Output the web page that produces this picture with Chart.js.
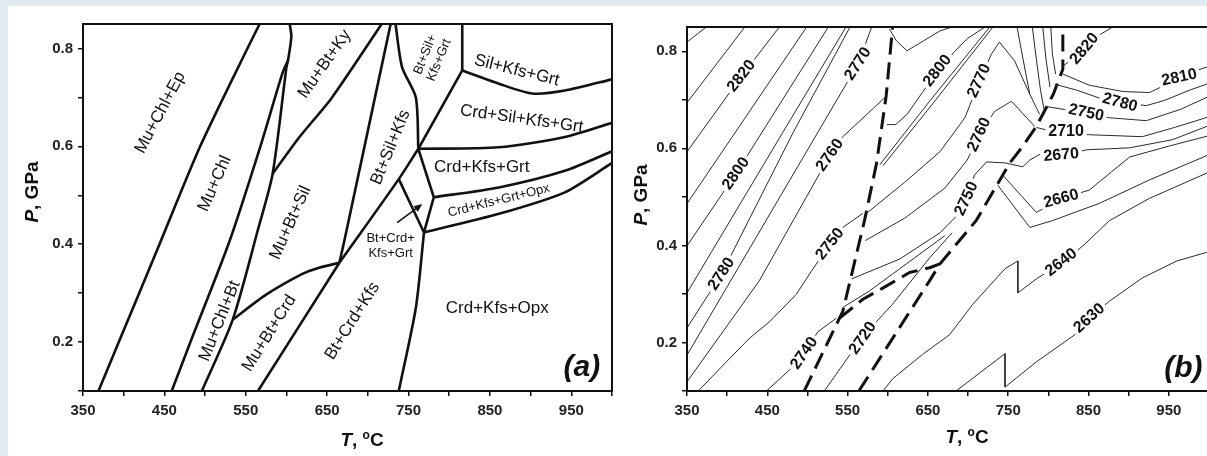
<!DOCTYPE html>
<html>
<head>
<meta charset="utf-8">
<script src="https://cdn.jsdelivr.net/npm/chart.js@4.4.1/dist/chart.umd.min.js"></script>
<style>
html, body { margin:0; padding:0; overflow:hidden; width:1207px; height:456px; background:#e1e9f3; }
#sheet { position:absolute; left:8px; top:6px; right:0; bottom:0; background:#fff; }
canvas { position:absolute; top:0; }
#chartA { left:0; }
#chartB { left:600px; }
</style>
</head>
<body>
<div id="sheet"></div>
<canvas id="chartA" width="620" height="456"></canvas>
<canvas id="chartB" width="620" height="456"></canvas>
<script>
const FONT = "'Liberation Sans', Arial, Helvetica, sans-serif"

// axes
const xTickValues = [350,400,450,500,550,600,650,700,750,800,850,900,950,1000]
const xTickLabels = [350,450,550,650,750,850,950]
const yTickValues = [0.1,0.2,0.3,0.4,0.5,0.6,0.7,0.8]
const yTickLabels = [0.2,0.4,0.6,0.8]

// ---- panel (a) phase boundaries, points are [T in C, P in GPa]
const epOut      = [[369,0.1],[394,0.2],[444,0.4],[494,0.6],[552,0.8],[567,0.85]]
const chlBtIn    = [[459,0.1],[482,0.2],[530,0.406],[568,0.6],[595,0.749],[602,0.776]]
const chlOut     = [[496,0.1],[534,0.246],[565,0.43],[583,0.544],[600,0.762],[602,0.776]]
const muChlTop   = [[602,0.776],[606,0.824],[604,0.85]]
const kySil      = [[583,0.544],[616,0.619],[656,0.70],[717,0.85]]
const crdIn      = [[534,0.246],[575,0.297],[619,0.339],[640,0.352],[665,0.362]]
const muOutLow   = [[565,0.1],[665,0.362]]
const muOutHigh  = [[665,0.362],[671,0.406],[728,0.85]]
const grtInSil   = [[734,0.85],[742,0.762],[759,0.70],[762,0.595]]
const btOutLow   = [[665,0.362],[738,0.533],[762,0.595]]
const grtInCrd   = [[738,0.533],[769,0.424]]
const btOutGrt   = [[762,0.595],[781,0.496]]
const opxInGrt   = [[781,0.496],[769,0.424]]
const btOutHigh  = [[762,0.595],[816,0.755]]
const silKfsWall = [[816,0.755],[816,0.85]]
const silOutTop  = [[816,0.755],[861,0.728],[902,0.708],[942,0.714],[1000,0.737]]
const crdSilOut  = [[762,0.595],[861,0.598],[942,0.619],[1000,0.648]]
const opxIn      = [[781,0.496],[861,0.516],[942,0.55],[1000,0.59]]
const grtOut     = [[769,0.424],[861,0.462],[942,0.506],[1000,0.566]]
const opxInLow   = [[769,0.424],[759,0.27],[738,0.1]]

// ---- panel (b) dashed boundaries
const dashChlOut = [[496,0.1],[544,0.264],[571,0.451],[586,0.569],[598,0.708],[606,0.85]]
const dashBtOut  = [[564,0.1],[652,0.327],[665,0.362],[710,0.451],[752,0.57],[768,0.604],[785,0.645],[806,0.711],[818,0.763],[818,0.85]]
const dashCrdIn  = [[540,0.25],[569,0.289],[598,0.316],[627,0.344],[652,0.354],[665,0.362]]

// ---- panel (b) density isolines, kg/m3
const c2840 = [[350,0.819],[374,0.85]]
const c2830 = [[350,0.694],[422,0.85]]
const c2820 = [[350,0.593],[418,0.749],[465,0.85]]
const c2810 = [[350,0.486],[499,0.85]]
const c2800 = [[350,0.399],[411,0.548],[526,0.85]]
const c2790 = [[350,0.302],[469,0.632],[548,0.85]]
const c2780 = [[350,0.23],[393,0.341],[482,0.632],[553,0.85]]
const c2770 = [[350,0.174],[563,0.774],[580,0.85]]
const c2760 = [[350,0.119],[440,0.327],[528,0.586],[544,0.624],[598,0.707]]
const c2750 = [[364,0.1],[399,0.16],[428,0.209],[453,0.243],[486,0.299],[505,0.347],[528,0.403],[544,0.437],[569,0.466]]
const c2740 = [[449,0.1],[478,0.144],[496,0.178],[513,0.222],[536,0.25]]

const m2810  = [[602,0.846],[611,0.821],[624,0.801],[665,0.842],[680,0.85]]
const m2800  = [[599,0.649],[610,0.649],[624,0.67],[643,0.715],[662,0.759],[683,0.799],[699,0.826],[721,0.85]]
const m2790a = [[590,0.566],[652,0.697],[727,0.85]]
const m2790b = [[594,0.564],[656,0.692],[731,0.85]]
const m2770  = [[575,0.468],[621,0.53],[665,0.593],[696,0.663],[714,0.738],[729,0.794],[739,0.819],[758,0.78],[777,0.711],[789,0.67]]
const m2760  = [[572,0.41],[621,0.456],[671,0.518],[699,0.576],[714,0.628],[733,0.676],[754,0.697],[783,0.645]]
const m2750  = [[555,0.331],[615,0.372],[665,0.426],[690,0.468],[698,0.497],[708,0.545],[723,0.572],[746,0.57],[768,0.562]]
const m2730  = [[544,0.272],[577,0.306],[615,0.352],[671,0.42]]
const m2720  = [[521,0.1],[553,0.175],[569,0.208],[586,0.243],[606,0.279],[652,0.374],[680,0.426]]
const fan1   = [[761,0.85],[766,0.805],[772,0.753],[777,0.711]]
const fan2   = [[780,0.85],[785,0.784],[790,0.722],[795,0.676]]
const fan3   = [[793,0.85],[797,0.784],[802,0.726]]
const fan4   = [[803,0.85],[805,0.794],[809,0.753]]

const r2820 = [[818,0.769],[833,0.788],[845,0.805],[864,0.834],[880,0.85]]
const r2810 = [[818,0.753],[851,0.73],[893,0.717],[926,0.715],[945,0.73],[964,0.747],[982,0.759],[1000,0.769]]
const r2780 = [[808,0.732],[835,0.72],[868,0.701],[889,0.695],[922,0.688],[945,0.699],[976,0.72],[1000,0.734]]
const r2750 = [[798,0.686],[820,0.68],[848,0.674],[876,0.663],[922,0.657],[964,0.68],[1000,0.707]]
const r2710 = [[785,0.643],[802,0.636],[823,0.634],[851,0.628],[917,0.624],[957,0.643],[1000,0.665]]
const r2670 = [[768,0.562],[777,0.576],[793,0.591],[817,0.586],[848,0.597],[901,0.601],[955,0.618],[1000,0.647]]
const r2660 = [[743,0.545],[785,0.468],[802,0.483],[817,0.497],[851,0.514],[901,0.582],[951,0.605],[1000,0.626]]
const r2650 = [[737,0.524],[777,0.437],[805,0.451],[864,0.487],[926,0.535],[1000,0.587]]
const r2640 = [[594,0.1],[606,0.125],[643,0.175],[677,0.216],[706,0.279],[746,0.352],[762,0.368],[762,0.302],[785,0.331],[817,0.364],[843,0.399],[876,0.451],[926,0.497],[1000,0.551]]
const r2630 = [[685,0.1],[746,0.177],[746,0.108],[785,0.16],[833,0.216],[851,0.25],[876,0.285],[917,0.333],[960,0.368],[1000,0.387]]

// field names of panel (a) and isoline values of panel (b)
const fieldsA = [
  {text:'Mu+Chl+Ep', t:445, p:0.669, angle:-62},
  {text:'Mu+Chl', t:512, p:0.524, angle:-66},
  {text:'Mu+Chl+Bt', t:518, p:0.243, angle:-68},
  {text:'Mu+Bt+Crd', t:579, p:0.218, angle:-58},
  {text:'Mu+Bt+Sil', t:605, p:0.444, angle:-66},
  {text:'Mu+Bt+Ky', t:647, p:0.768, angle:-55},
  {text:'Bt+Sil+Kfs', t:728, p:0.598, angle:-68},
  {text:'Bt+Sil+\nKfs+Grt', t:779, p:0.782, angle:-68, small:true},
  {text:'Sil+Kfs+Grt', t:883, p:0.755, angle:14},
  {text:'Crd+Sil+Kfs+Grt', t:889, p:0.656, angle:8},
  {text:'Crd+Kfs+Grt', t:840, p:0.557, angle:0},
  {text:'Crd+Kfs+Grt+Opx', t:861, p:0.489, angle:-14, small:true},
  {text:'Bt+Crd+\nKfs+Grt', t:728, p:0.397, angle:0, small:true},
  {text:'Bt+Crd+Kfs', t:681, p:0.243, angle:-58},
  {text:'Crd+Kfs+Opx', t:859, p:0.27, angle:0}
]
const isoLabelsB = [
  {text:'2820', t:418, p:0.749, angle:-52},
  {text:'2800', t:411, p:0.548, angle:-55},
  {text:'2780', t:393, p:0.341, angle:-57},
  {text:'2770', t:563, p:0.774, angle:-57},
  {text:'2760', t:528, p:0.586, angle:-55},
  {text:'2750', t:528, p:0.403, angle:-52},
  {text:'2740', t:496, p:0.178, angle:-55},
  {text:'2720', t:569, p:0.209, angle:-55},
  {text:'2800', t:662, p:0.760, angle:-52},
  {text:'2770', t:714, p:0.739, angle:-65},
  {text:'2760', t:714, p:0.628, angle:-65},
  {text:'2750', t:698, p:0.496, angle:-65},
  {text:'2820', t:845, p:0.805, angle:-50},
  {text:'2810', t:963, p:0.746, angle:-12},
  {text:'2780', t:889, p:0.694, angle:15},
  {text:'2750', t:847, p:0.673, angle:12},
  {text:'2710', t:822, p:0.635, angle:0},
  {text:'2670', t:816, p:0.586, angle:-5},
  {text:'2660', t:816, p:0.496, angle:-15},
  {text:'2640', t:816, p:0.365, angle:-38},
  {text:'2630', t:851, p:0.25, angle:-42}
]

const boundariesA = [epOut, chlBtIn, chlOut, muChlTop, kySil, crdIn, muOutLow, muOutHigh, grtInSil,
  btOutLow, grtInCrd, btOutGrt, opxInGrt, btOutHigh, silKfsWall, silOutTop, crdSilOut, opxIn, grtOut, opxInLow]
const dashedB = [dashChlOut, dashBtOut, dashCrdIn]
const isolinesB = [c2840, c2830, c2820, c2810, c2800, c2790, c2780, c2770, c2760, c2750, c2740,
  m2810, m2800, m2790a, m2790b, m2770, m2760, m2750, m2730, m2720, fan1, fan2, fan3, fan4,
  r2820, r2810, r2780, r2750, r2710, r2670, r2660, r2650, r2640, r2630]

function toXY(line){
  return line.map(([t, p]) => ({x: t, y: p}))
}

function lineSet(line, width, dash, tension, color){
  return {
    data: toXY(line), showLine: true, pointRadius: 0, fill: false,
    borderColor: color, borderWidth: width, borderDash: dash, tension: tension,
    borderJoinStyle: 'round'
  }
}

function drawLabel(ctx, x, y, l){
  ctx.save()
  ctx.translate(x, y)
  ctx.rotate(l.angle * Math.PI / 180)
  ctx.font = l.font
  ctx.textAlign = 'center'
  ctx.textBaseline = 'middle'
  const rows = l.text.split('\n')
  if(l.box){
    const w = ctx.measureText(l.text).width + 6
    ctx.fillStyle = '#fff'
    ctx.fillRect(-w / 2, -8, w, 16)
  }
  ctx.fillStyle = '#111'
  rows.forEach((r, i) => ctx.fillText(r, 0, (i - (rows.length - 1) / 2) * l.lh))
  ctx.restore()
}

function drawYTitle(ctx, cx, cy){
  ctx.save()
  ctx.translate(cx, cy)
  ctx.rotate(-Math.PI / 2)
  const f1 = 'italic bold 19px ' + FONT, f2 = 'bold 19px ' + FONT
  ctx.font = f1; const w1 = ctx.measureText('P').width
  ctx.font = f2; const w2 = ctx.measureText(', GPa').width
  const x0 = -(w1 + w2) / 2
  ctx.textBaseline = 'middle'; ctx.textAlign = 'left'; ctx.fillStyle = '#111'
  ctx.font = f1; ctx.fillText('P', x0, 0)
  ctx.font = f2; ctx.fillText(', GPa', x0 + w1, 0)
  ctx.restore()
}

function drawXTitle(ctx, cx, cy){
  ctx.save()
  const parts = [
    {s:'T', f:'italic bold 19px ' + FONT, dy:0},
    {s:', ', f:'bold 19px ' + FONT, dy:0},
    {s:'o', f:'bold 12px ' + FONT, dy:-5},
    {s:'C', f:'bold 19px ' + FONT, dy:0}
  ]
  let total = 0
  parts.forEach(p => { ctx.font = p.f; p.w = ctx.measureText(p.s).width; total += p.w })
  let x = cx - total / 2
  ctx.textBaseline = 'middle'; ctx.textAlign = 'left'; ctx.fillStyle = '#111'
  parts.forEach(p => { ctx.font = p.f; ctx.fillText(p.s, x, cy + p.dy); x += p.w })
  ctx.restore()
}

function overlay(cfg){
  return {
    id: 'overlay',
    afterDatasetsDraw(chart){
      const ctx = chart.ctx, a = chart.chartArea
      const sx = chart.scales.x, sy = chart.scales.y
      ctx.save()
      ctx.beginPath()
      ctx.rect(a.left, a.top, a.right - a.left, a.bottom - a.top)
      ctx.clip()
      cfg.labels.forEach(l => drawLabel(ctx, sx.getPixelForValue(l.t), sy.getPixelForValue(l.p), l))
      if(cfg.arrow){
        const x1 = sx.getPixelForValue(cfg.arrow[0][0]), y1 = sy.getPixelForValue(cfg.arrow[0][1])
        const x2 = sx.getPixelForValue(cfg.arrow[1][0]), y2 = sy.getPixelForValue(cfg.arrow[1][1])
        const ang = Math.atan2(y2 - y1, x2 - x1)
        ctx.strokeStyle = '#111'; ctx.fillStyle = '#111'; ctx.lineWidth = 1.6
        ctx.beginPath(); ctx.moveTo(x1, y1); ctx.lineTo(x2 - 6 * Math.cos(ang), y2 - 6 * Math.sin(ang)); ctx.stroke()
        ctx.beginPath(); ctx.moveTo(x2, y2)
        ctx.lineTo(x2 - 9 * Math.cos(ang - 0.4), y2 - 9 * Math.sin(ang - 0.4))
        ctx.lineTo(x2 - 9 * Math.cos(ang + 0.4), y2 - 9 * Math.sin(ang + 0.4))
        ctx.closePath(); ctx.fill()
      }
      const tag = cfg.tag
      ctx.font = 'italic bold 30px ' + FONT
      ctx.fillStyle = '#111'; ctx.textAlign = 'center'; ctx.textBaseline = 'middle'
      ctx.fillText(tag.text, sx.getPixelForValue(tag.t), sy.getPixelForValue(tag.p))
      ctx.restore()

      ctx.save()
      ctx.strokeStyle = '#111'; ctx.lineWidth = 2
      ctx.strokeRect(a.left, a.top, a.right - a.left, a.bottom - a.top)
      ctx.restore()
      drawYTitle(ctx, a.left - cfg.yTitleGap, cfg.yTitleY)
      drawXTitle(ctx, cfg.xTitleX, cfg.xTitleY)
    }
  }
}

function scalesFor(yWidth, xHeight){
  return {
    x: {
      type: 'linear', min: 350, max: 1000,
      grid: {display: true, drawOnChartArea: false, drawTicks: true, tickLength: 5, color: '#111', lineWidth: 1.5},
      border: {display: false},
      afterBuildTicks: s => { s.ticks = xTickValues.map(v => ({value: v})) },
      afterFit: s => { s.height = xHeight },
      ticks: {autoSkip: false, maxRotation: 0, padding: 6, color: '#222',
        font: {size: 15, weight: 'bold', family: FONT},
        callback: v => xTickLabels.includes(v) ? String(v) : ''}
    },
    y: {
      type: 'linear', min: 0.1, max: 0.85,
      grid: {display: true, drawOnChartArea: false, drawTicks: true, tickLength: 5, color: '#111', lineWidth: 1.5},
      border: {display: false},
      afterBuildTicks: s => { s.ticks = yTickValues.map(v => ({value: v})) },
      afterFit: s => { s.width = yWidth },
      ticks: {autoSkip: false, padding: 5, color: '#222',
        font: {size: 15, weight: 'bold', family: FONT},
        callback: v => yTickLabels.includes(v) ? v.toFixed(1) : ''}
    }
  }
}

const baseOptions = {
  responsive: false, animation: false, events: [],
  plugins: {legend: {display: false}, tooltip: {enabled: false}}
}

// panel (a)
new Chart('chartA', {
  type: 'scatter',
  data: {datasets: boundariesA.map(l => lineSet(l, 2.6, [], 0.25, '#111'))},
  options: Object.assign({}, baseOptions, {
    layout: {padding: {left: 0, top: 24, right: 8, bottom: 0}},
    scales: scalesFor(83, 65)
  }),
  plugins: [overlay({
    labels: fieldsA.map(f => Object.assign({}, f, {
      font: (f.small ? '13px ' : '17px ') + FONT, lh: f.small ? 15 : 19
    })),
    arrow: [[736, 0.444], [767, 0.482]],
    tag: {text: '(a)', t: 963, p: 0.147},
    yTitleGap: 50, yTitleY: 192, xTitleX: 362, xTitleY: 441
  })]
})

// panel (b)
new Chart('chartB', {
  type: 'scatter',
  data: {datasets: isolinesB.map(l => lineSet(l, 1, [], 0, '#2a2a2a'))
    .concat(dashedB.map(l => lineSet(l, 3, [17, 8], 0, '#111')))},
  options: Object.assign({}, baseOptions, {
    layout: {padding: {left: 0, top: 27, right: 11, bottom: 0}},
    scales: scalesFor(87, 65)
  }),
  plugins: [overlay({
    labels: isoLabelsB.map(f => Object.assign({}, f, {font: 'bold 16px ' + FONT, lh: 18, box: true})),
    arrow: null,
    tag: {text: '(b)', t: 968, p: 0.146},
    yTitleGap: 45, yTitleY: 195, xTitleX: 367, xTitleY: 438
  })]
})
</script>
</body>
</html>
